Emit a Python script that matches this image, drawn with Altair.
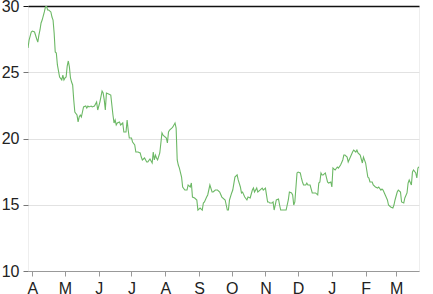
import altair as alt
import pandas as pd

# day offsets from 2012-04-01 and closing values
days = [-4, -3, -1, 0, 2, 4, 5, 6, 7, 8, 9, 11, 12, 13, 14, 15, 17, 18, 19, 20,
        21, 22, 23, 25, 27, 28, 29, 30, 31, 32, 33, 34, 35, 36, 37, 38, 39, 41, 42, 43,
        44, 45, 46, 47, 49, 50, 51, 52, 54, 55, 57, 59, 60, 62, 64, 65, 66, 67, 68, 70,
        72, 74, 75, 76, 77, 78, 80, 81, 83, 84, 86, 87, 88, 89, 91, 92, 94, 95, 97, 99,
        100, 101, 103, 105, 106, 108, 110, 111, 112, 113, 114, 115, 117, 119, 120, 122, 123, 124, 125, 126,
        128, 129, 131, 132, 133, 134, 135, 137, 138, 140, 142, 143, 145, 146, 147, 149, 151, 152, 154, 156,
        157, 158, 160, 161, 163, 165, 166, 168, 170, 172, 174, 177, 179, 180, 181, 183, 184, 186, 188, 189,
        191, 192, 193, 195, 197, 198, 200, 202, 203, 204, 206, 207, 209, 211, 212, 214, 216, 217, 218, 220,
        221, 222, 224, 226, 227, 228, 230, 233, 235, 236, 238, 239, 240, 241, 243, 244, 246, 247, 248, 249,
        251, 252, 253, 255, 257, 258, 260, 262, 263, 264, 265, 266, 267, 269, 271, 272, 274, 275, 276, 278,
        280, 281, 283, 285, 286, 287, 289, 290, 292, 294, 295, 297, 298, 299, 301, 303, 304, 306, 308, 309,
        310, 312, 313, 315, 317, 318, 320, 321, 322, 324, 326, 327, 329, 331, 332, 333, 335, 336, 338, 339,
        341, 342, 344, 345, 346, 348, 349, 350, 352, 353, 354, 356]

values = [26.83, 27.43, 28.04, 28.11, 28.04, 27.51, 27.28, 27.80, 28.19, 28.72, 28.94, 29.55, 29.92, 30.00, 29.70, 29.70, 29.55, 29.17, 28.94, 27.96,
          26.53, 26.45, 25.55, 24.64, 24.42, 24.79, 24.42, 24.57, 24.64, 25.47, 25.85, 25.40, 24.57, 24.26, 24.04, 22.91, 22.00, 21.77, 21.25, 21.62,
          21.77, 21.62, 22.00, 22.38, 22.45, 22.30, 22.45, 22.38, 22.45, 22.38, 22.45, 22.75, 22.15, 22.75, 23.58, 23.43, 22.91, 22.15, 23.43, 23.36,
          23.28, 21.77, 21.17, 21.40, 21.02, 21.17, 21.25, 21.02, 21.17, 20.49, 20.49, 21.40, 20.64, 20.04, 20.04, 19.74, 19.51, 18.98, 18.98, 18.91,
          18.60, 18.38, 18.53, 18.23, 18.23, 18.45, 18.15, 18.98, 18.38, 18.75, 18.53, 18.38, 18.91, 20.42, 20.26, 20.11, 20.04, 19.66, 20.49, 20.64,
          20.79, 20.87, 21.17, 20.79, 18.38, 18.00, 17.77, 17.09, 16.34, 16.11, 16.11, 16.49, 16.34, 16.64, 15.58, 15.51, 15.36, 14.60, 14.75, 14.60,
          15.13, 15.21, 15.58, 15.74, 16.49, 15.96, 15.96, 16.11, 16.11, 15.96, 15.58, 15.36, 14.60, 14.60, 15.36, 15.89, 16.11, 17.09, 17.25, 16.87,
          16.34, 15.89, 15.96, 15.58, 15.36, 15.58, 15.51, 16.11, 16.26, 15.96, 16.26, 15.96, 16.11, 16.26, 16.11, 16.26, 15.21, 15.21, 15.13, 15.13,
          15.21, 14.60, 15.36, 15.43, 14.98, 14.60, 14.60, 14.60, 15.36, 15.96, 15.89, 15.74, 14.98, 15.21, 17.40, 17.47, 17.40, 17.02, 16.72, 16.49,
          16.49, 16.64, 16.49, 16.49, 15.89, 15.89, 15.89, 15.74, 16.64, 16.72, 17.40, 17.25, 17.25, 17.40, 16.72, 16.64, 16.72, 16.34, 17.77, 17.62,
          17.85, 17.77, 18.00, 18.38, 18.75, 18.75, 18.60, 18.23, 18.60, 18.98, 19.13, 18.98, 19.13, 18.91, 18.75, 18.15, 18.60, 18.15, 17.09, 17.02,
          16.72, 16.72, 16.49, 16.34, 16.26, 16.34, 16.11, 16.19, 16.11, 15.74, 15.36, 14.98, 14.83, 14.75, 14.98, 15.36, 15.96, 16.11, 15.96, 15.21,
          15.13, 15.51, 15.89, 16.64, 16.87, 16.49, 17.47, 17.62, 17.40, 17.02, 17.77, 17.92]

y_ticks = [10, 15, 20, 25, 30]
month_ticks = [(2012, m) for m in range(4, 13)] + [(2013, m) for m in range(1, 4)]

base = pd.Timestamp("2012-04-01")
df = pd.DataFrame({
    "date": [base + pd.Timedelta(days=d) for d in days],
    "value": values,
})

font = "Liberation Sans"

chart = alt.Chart(df).mark_line(color="#6cb865", strokeWidth=1.1, clip=True).encode(
    x=alt.X(
        "date:T",
        scale=alt.Scale(domain=[alt.DateTime(year=2012, month=3, date=28),
                                alt.DateTime(year=2013, month=3, date=22)]),
        axis=alt.Axis(
            title=None,
            values=[alt.DateTime(year=y, month=m, date=1) for y, m in month_ticks],
            format="%b",
            labelExpr="substring(datum.label, 0, 1)",
            grid=False,
            domainColor="#999999",
            tickColor="#999999",
            tickSize=5,
            labelPadding=4,
            labelFont=font,
            labelFontSize=16,
            labelColor="#222222",
            labelFlush=False,
        ),
    ),
    y=alt.Y(
        "value:Q",
        scale=alt.Scale(domain=[10, 30], nice=False, zero=False),
        axis=alt.Axis(
            title=None,
            values=y_ticks,
            domain=False,
            grid=True,
            gridColor=alt.condition("datum.value == 30", alt.value("#111111"), alt.value("#e2e2e2")),
            gridWidth=alt.condition("datum.value == 30", alt.value(1.3), alt.value(1)),
            tickColor=alt.condition("datum.value == 30", alt.value("#111111"), alt.value("#777777")),
            tickSize=5,
            labelPadding=4,
            labelFont=font,
            labelFontSize=16,
            labelColor="#222222",
        ),
    ),
).properties(
    width=391,
    height=265,
    autosize=alt.AutoSizeParams(type="none"),
    padding={"left": 28, "top": 6, "right": 14, "bottom": 23},
).configure_view(stroke="#eeeeee")

chart.save("out.html", embed_options={"renderer": "svg", "actions": False})
